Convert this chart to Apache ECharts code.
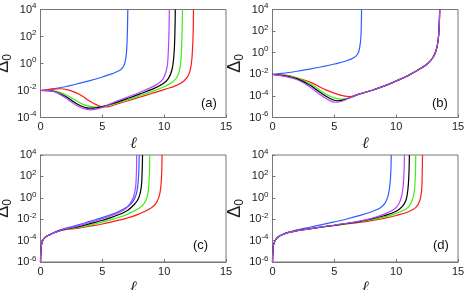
<!DOCTYPE html>
<html><head><meta charset="utf-8">
<script src="https://cdn.jsdelivr.net/npm/echarts@6/dist/echarts.min.js"></script>
<style>html,body{margin:0;padding:0;background:#fff}#c{width:464px;height:290px}</style>
</head><body><div id="c"></div>
<script>
// x ticks and y tick exponents
const xTicks = [0, 5, 10, 15];
const yTicksA = [-4, -2, 0, 2, 4];
const yTicksBCD = [-6, -4, -2, 0, 2, 4];
const panelLabels = ['(a)', '(b)', '(c)', '(d)'];
const seriesNames = ['blue', 'red', 'green', 'black', 'purple'];

// Each curve: [ℓ, log10(Δ0)]
// Panel (a)
const aBlue = [[0,-2],[1,-1.88],[2,-1.72],[3,-1.5],[4,-1.27],[5,-1.0],[5.5,-0.84],[6,-0.68],[6.5,-0.45],[6.75,-0.15],[6.9,0.4],[6.98,1.2],[7.03,2.5],[7.06,4]];
const aRed = [[0,-2],[0.5,-1.96],[1,-1.9],[1.6,-1.87],[2.2,-1.95],[2.7,-2.1],[3.2,-2.32],[3.6,-2.55],[4,-2.8],[4.5,-3.05],[5.1,-3.22],[5.6,-3.18],[6.2,-3.0],[7,-2.78],[8,-2.5],[9,-2.22],[10,-1.93],[11,-1.62],[11.6,-1.3],[12,-0.8],[12.2,0],[12.3,1.2],[12.35,2.5],[12.37,4]];
const aGreen = [[0,-2],[1,-2.02],[1.5,-2.12],[2,-2.3],[2.5,-2.55],[3,-2.82],[3.5,-3.05],[4,-3.18],[4.5,-3.23],[5,-3.2],[6,-2.97],[7,-2.7],[8,-2.4],[9,-2.08],[10,-1.72],[10.7,-1.35],[11.1,-0.9],[11.3,-0.2],[11.4,1],[11.45,2.5],[11.48,4]];
const aBlack = [[0,-2],[1,-2.04],[1.5,-2.2],[2,-2.42],[2.5,-2.72],[3,-3.02],[3.5,-3.22],[3.9,-3.31],[4.5,-3.28],[5,-3.2],[6,-2.92],[7,-2.6],[8,-2.27],[9,-1.92],[9.9,-1.5],[10.35,-1.1],[10.62,-0.5],[10.78,0.5],[10.86,2],[10.9,4]];
const aPurple = [[0,-2],[0.5,-2.01],[1,-2.05],[1.5,-2.25],[2,-2.52],[2.5,-2.85],[3,-3.15],[3.5,-3.35],[4,-3.43],[4.5,-3.38],[5,-3.25],[5.5,-3.05],[6,-2.85],[7,-2.5],[8,-2.15],[9,-1.75],[9.5,-1.5],[9.9,-1.15],[10.1,-0.75],[10.25,-0.2],[10.33,0.8],[10.38,2],[10.42,4]];
// Panel (b)
const bBlue = [[0,-2],[1,-1.88],[2,-1.72],[3,-1.52],[4,-1.3],[5,-1.05],[6,-0.75],[6.6,-0.45],[6.9,-0.1],[7.05,0.5],[7.15,1.5],[7.2,4]];
const bRed = [[0,-2],[1,-2.08],[1.6,-2.2],[2.5,-2.5],[3.24,-2.82],[4.32,-3.44],[5.4,-3.9],[6.2,-4.06],[6.6,-3.97],[7,-3.84],[8,-3.5],[9,-3.1],[10,-2.62],[11,-2.1],[12,-1.45],[12.6,-0.95],[13,-0.4],[13.25,0.3],[13.4,1.2],[13.48,2.5],[13.52,4]];
const bGreen = [[0,-2],[1,-2.12],[2,-2.35],[3,-2.85],[3.75,-3.4],[4.5,-3.95],[5.5,-4.3],[6,-4.25],[6.5,-4.05],[7,-3.84],[8,-3.5],[9,-3.1],[10,-2.62],[11,-2.1],[12,-1.45],[12.6,-0.95],[13,-0.4],[13.25,0.3],[13.4,1.2],[13.48,2.5],[13.52,4]];
const bBlack = [[0,-2],[1,-2.15],[2,-2.42],[3,-3.0],[3.75,-3.6],[4.5,-4.15],[5.25,-4.46],[5.8,-4.35],[6.4,-4.1],[7,-3.84],[8,-3.5],[9,-3.1],[10,-2.62],[11,-2.1],[12,-1.45],[12.6,-0.95],[13,-0.4],[13.25,0.3],[13.4,1.2],[13.48,2.5],[13.52,4]];
const bPurple = [[0,-2],[1,-2.2],[2,-2.5],[3,-3.15],[3.75,-3.8],[4.5,-4.35],[5.1,-4.59],[5.6,-4.5],[6.2,-4.2],[7,-3.84],[8,-3.5],[9,-3.1],[10,-2.62],[11,-2.1],[12,-1.45],[12.6,-0.95],[13,-0.4],[13.25,0.3],[13.4,1.2],[13.48,2.5],[13.52,4]];
// Panel (c)
const cBlue = [[0,-6],[0.03,-5],[0.1,-4.25],[0.25,-3.85],[0.5,-3.6],[0.8,-3.4],[1.2,-3.18],[1.6,-3.0],[2,-2.85],[3,-2.55],[4,-2.2],[5,-1.85],[6,-1.45],[6.8,-1.0],[7.3,-0.6],[7.6,-0.1],[7.8,0.6],[7.92,1.8],[7.98,4]];
const cRed = [[0,-6],[0.03,-5],[0.1,-4.25],[0.25,-3.85],[0.5,-3.6],[0.8,-3.42],[1.2,-3.22],[1.6,-3.07],[2,-2.97],[3,-2.85],[4,-2.65],[5,-2.45],[6,-2.18],[7,-1.9],[8,-1.5],[9,-0.9],[9.4,-0.4],[9.65,0.4],[9.78,1.8],[9.83,4]];
const cGreen = [[0,-6],[0.03,-5],[0.1,-4.25],[0.25,-3.85],[0.5,-3.6],[0.8,-3.42],[1.2,-3.22],[1.6,-3.06],[2,-2.95],[3,-2.78],[4,-2.55],[5,-2.28],[6,-1.95],[7,-1.55],[8,-0.95],[8.4,-0.5],[8.65,0.2],[8.78,1.5],[8.84,4]];
const cBlack = [[0,-6],[0.03,-5],[0.1,-4.25],[0.25,-3.85],[0.5,-3.6],[0.8,-3.42],[1.2,-3.22],[1.6,-3.05],[2,-2.93],[3,-2.72],[4,-2.42],[5,-2.1],[6,-1.72],[7,-1.2],[7.6,-0.6],[7.95,0],[8.15,1],[8.22,2.5],[8.25,4]];
const cPurple = [[0,-6],[0.03,-5],[0.1,-4.25],[0.25,-3.85],[0.5,-3.6],[0.8,-3.42],[1.2,-3.22],[1.6,-3.04],[2,-2.9],[3,-2.65],[4,-2.3],[5,-1.95],[6,-1.55],[6.8,-1.1],[7.2,-0.6],[7.5,0],[7.68,0.9],[7.75,2.2],[7.78,4]];
// Panel (d)
const dBlue = [[0,-6],[0.03,-5],[0.1,-4.3],[0.3,-3.85],[0.6,-3.55],[1,-3.33],[1.5,-3.15],[2,-3.0],[3,-2.75],[4,-2.5],[5,-2.25],[6,-1.98],[7,-1.67],[8,-1.3],[8.7,-0.95],[9.1,-0.5],[9.35,0.2],[9.5,1.3],[9.57,2.5],[9.6,4]];
const dRed = [[0,-6],[0.03,-5],[0.1,-4.3],[0.3,-3.85],[0.6,-3.55],[1,-3.35],[1.5,-3.18],[2,-3.05],[3,-2.87],[4,-2.72],[5,-2.58],[6,-2.44],[7,-2.3],[8,-2.13],[9,-1.92],[10,-1.65],[11,-1.3],[11.6,-0.9],[11.9,-0.3],[12.05,0.6],[12.1,2],[12.13,4]];
const dGreen = [[0,-6],[0.03,-5],[0.1,-4.3],[0.3,-3.85],[0.6,-3.55],[1,-3.35],[1.5,-3.18],[2,-3.08],[3,-2.9],[4,-2.74],[5,-2.58],[6,-2.42],[7,-2.25],[8,-2.05],[9,-1.8],[10,-1.45],[10.8,-1.05],[11.2,-0.5],[11.45,0.5],[11.55,2],[11.58,4]];
const dBlack = [[0,-6],[0.03,-5],[0.1,-4.3],[0.3,-3.85],[0.6,-3.55],[1,-3.35],[1.5,-3.18],[2,-3.08],[3,-2.9],[4,-2.73],[5,-2.57],[6,-2.4],[7,-2.22],[8,-1.98],[9,-1.68],[10,-1.25],[10.5,-0.8],[10.8,-0.2],[10.95,0.8],[11.03,2.2],[11.07,4]];
const dPurple = [[0,-6],[0.03,-5],[0.1,-4.3],[0.3,-3.85],[0.6,-3.55],[1,-3.35],[1.5,-3.18],[2,-3.08],[3,-2.9],[4,-2.72],[5,-2.55],[6,-2.38],[7,-2.18],[8,-1.92],[9,-1.55],[9.8,-1.1],[10.2,-0.6],[10.45,0.2],[10.58,1.3],[10.64,2.5],[10.67,4]];

const panels = [
  {curves: [aBlue, aRed, aGreen, aBlack, aPurple], yTicks: yTicksA},
  {curves: [bBlue, bRed, bGreen, bBlack, bPurple], yTicks: yTicksBCD},
  {curves: [cBlue, cRed, cGreen, cBlack, cPurple], yTicks: yTicksBCD},
  {curves: [dBlue, dRed, dGreen, dBlack, dPurple], yTicks: yTicksBCD}
];

const colors = {blue: '#2f5cff', red: '#ff1a1a', green: '#3cf014', black: '#000000', purple: '#b444ff'};
const gridPos = [
  {left: 40.5, top: 9.5, width: 185.5, height: 108},
  {left: 272.5, top: 9.5, width: 185.5, height: 108},
  {left: 40.5, top: 155, width: 185.5, height: 107},
  {left: 272.5, top: 155, width: 185.5, height: 107}
];
const labelPos = [[210, 105], [441, 105], [202, 247], [442, 247]];

const font = 'Liberation Sans, Arial, sans-serif';
const grids = [], xAxes = [], yAxes = [], series = [], graphics = [];
panels.forEach((p, i) => {
  grids.push(Object.assign({show: true, borderColor: '#777', borderWidth: 1, backgroundColor: 'transparent', containLabel: false, outerBoundsMode: 'none'}, gridPos[i]));
  xAxes.push({
    gridIndex: i, type: 'value', min: xTicks[0], max: xTicks[xTicks.length - 1], interval: xTicks[1] - xTicks[0],
    axisLine: {show: true, lineStyle: {color: '#777', width: 1}},
    axisTick: {show: true, inside: true, length: 3, lineStyle: {color: '#777'}},
    splitLine: {show: false},
    axisLabel: {fontSize: 11, color: '#222', margin: 4, fontFamily: font},
    name: 'ℓ', nameLocation: 'middle', nameGap: 18,
    nameTextStyle: {fontSize: 16, fontStyle: 'italic', fontFamily: 'DejaVu Serif', color: '#222'}
  });
  const lo = p.yTicks[0], hi = p.yTicks[p.yTicks.length - 1];
  yAxes.push({
    gridIndex: i, type: 'log', logBase: 10, min: Math.pow(10, lo), max: Math.pow(10, hi), interval: 2,
    axisLine: {show: true, lineStyle: {color: '#777', width: 1}},
    axisTick: {show: true, inside: true, length: 3, lineStyle: {color: '#777'}},
    splitLine: {show: false}, minorTick: {show: false},
    axisLabel: {
      margin: 4, color: '#222', fontFamily: font,
      formatter: v => '{b|10}{s|' + Math.round(Math.log10(v)) + '}',
      rich: {b: {fontSize: 11, fontFamily: font, color: '#222'}, s: {fontSize: 8, fontFamily: font, color: '#222', verticalAlign: 'top', padding: [0, 0, 7, 0]}}
    },
    name: '{d|Δ}{z|0}', nameLocation: 'middle', nameGap: 27,
    nameTextStyle: {rich: {d: {fontSize: 18, fontFamily: font, color: '#222'}, z: {fontSize: 12, fontFamily: font, color: '#222', padding: [8, 0, 0, 0]}}}
  });
  p.curves.forEach((c, k) => {
    series.push({
      type: 'line', xAxisIndex: i, yAxisIndex: i, name: seriesNames[k],
      data: c.map(d => [d[0], Math.pow(10, d[1])]),
      showSymbol: false, smooth: 0.4, clip: true,
      lineStyle: {color: colors[seriesNames[k]], width: 1.2}, z: 2 + k, animation: false
    });
  });
  graphics.push({type: 'text', left: labelPos[i][0] - 9, top: labelPos[i][1] - 8,
    style: {text: panelLabels[i], fontSize: 13, fontFamily: font, fill: '#111'}});
});

const chart = echarts.init(document.getElementById('c'), null, {renderer: 'canvas'});
chart.setOption({animation: false, grid: grids, xAxis: xAxes, yAxis: yAxes, series: series, graphic: graphics});
</script></body></html>
